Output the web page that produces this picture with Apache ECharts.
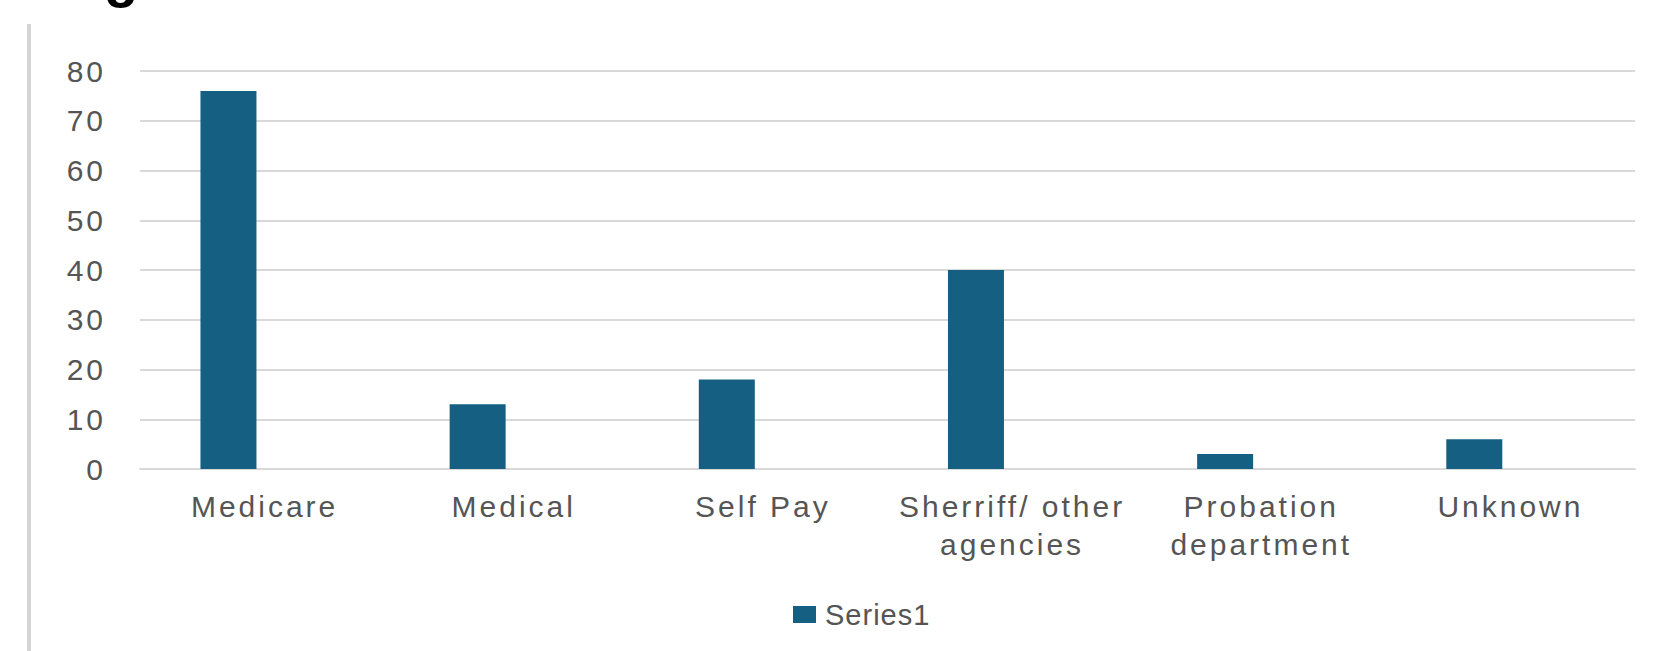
<!DOCTYPE html>
<html><head><meta charset="utf-8">
<script src="https://cdn.jsdelivr.net/npm/echarts@6/dist/echarts.min.js"></script>
<style>
html,body{margin:0;padding:0;background:#fff;}
#c{width:1659px;height:651px;}
#c text{letter-spacing:3px;}
#c text[style*="29px"]{letter-spacing:1px;}
#c text[style*="bold"]{letter-spacing:0;}
</style></head><body><div id="c"></div>
<script>
// ---- data ----
const categories = ['Medicare', 'Medical', 'Self Pay', 'Sherriff/ other\nagencies', 'Probation\ndepartment', 'Unknown'];
const series1 = [76, 13, 18, 40, 3, 6];
const series2 = []; // empty second series of the original chart (reserves the right-hand slot)
const yMin = 0, yMax = 80, yStep = 10;
const legendNames = ['Series1'];

const chart = echarts.init(document.getElementById('c'), null, {renderer: 'svg'});
const FONT = 'Liberation Sans';
chart.setOption({
  animation: false,
  backgroundColor: '#ffffff',
  grid: {left: 140, right: 24, top: 71, bottom: 182, containLabel: false},
  legend: {
    data: legendNames,
    left: 788, top: 595,
    icon: 'rect', itemWidth: 23, itemHeight: 17,
    textStyle: {fontFamily: FONT, fontSize: 29, color: '#555555', padding: [0, 0, 0, 4]}
  },
  xAxis: {
    type: 'category',
    data: categories,
    axisLine: {show: true, lineStyle: {color: '#d9d9d9', width: 2}},
    axisTick: {show: false},
    axisLabel: {interval: 0, margin: 18, fontFamily: FONT, fontSize: 30, lineHeight: 38, color: '#555555'}
  },
  yAxis: {
    type: 'value', min: yMin, max: yMax, interval: yStep,
    axisLine: {show: false}, axisTick: {show: false},
    axisLabel: {margin: 34, fontFamily: FONT, fontSize: 30, color: '#555555'},
    splitLine: {lineStyle: {color: '#d9d9d9', width: 2}}
  },
  series: [
    {name: 'Series1', type: 'bar', data: series1, barWidth: 56, barGap: '29%', itemStyle: {color: '#156082'}},
    {name: 'Series2', type: 'bar', data: series2, barWidth: 56, barGap: '29%', itemStyle: {color: '#e97132'}}
  ],
  graphic: [
    {type: 'rect', shape: {x: 27, y: 24, width: 4, height: 640}, style: {fill: '#d4d4d4'}, silent: true},
    {type: 'text', x: 104, y: -24, style: {text: 'g', font: 'bold 56px "Liberation Sans"', fill: '#000', verticalAlign: 'middle'}, silent: true}
  ]
});
</script></body></html>
